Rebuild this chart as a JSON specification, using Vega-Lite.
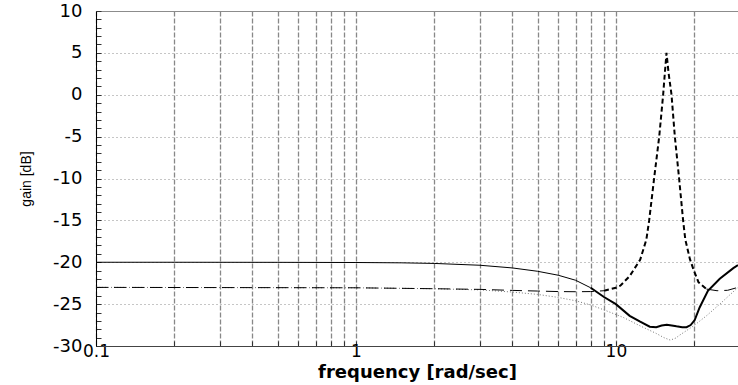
{
  "$schema": "https://vega.github.io/schema/vega-lite/v6.json",
  "width": 642,
  "height": 335,
  "autosize": {"type": "none"},
  "padding": {"left": 96, "top": 11, "right": 0, "bottom": 39},
  "background": "white",
  "config": {"view": {"stroke": null}},
  "data": {
    "values": [
      {"s": "A", "f": 0.1, "v": -20.0},
      {"s": "A", "f": 0.2, "v": -20.0},
      {"s": "A", "f": 0.5, "v": -20.01},
      {"s": "A", "f": 1, "v": -20.03},
      {"s": "A", "f": 1.5, "v": -20.07},
      {"s": "A", "f": 2, "v": -20.14},
      {"s": "A", "f": 3, "v": -20.36},
      {"s": "A", "f": 4, "v": -20.68},
      {"s": "A", "f": 5, "v": -21.08},
      {"s": "A", "f": 6, "v": -21.55},
      {"s": "A", "f": 7, "v": -22.15},
      {"s": "A", "f": 8, "v": -23.05},
      {"s": "A2", "f": 8, "v": -23.05},
      {"s": "A2", "f": 9, "v": -24.15},
      {"s": "A2", "f": 10, "v": -25.0},
      {"s": "A2", "f": 11.3, "v": -26.4},
      {"s": "A2", "f": 12.4, "v": -27.1},
      {"s": "A2", "f": 13.5, "v": -27.7},
      {"s": "A2", "f": 14.3, "v": -27.75},
      {"s": "A2", "f": 15.0, "v": -27.55},
      {"s": "A2", "f": 15.7, "v": -27.45},
      {"s": "A2", "f": 16.4, "v": -27.55},
      {"s": "A2", "f": 17.1, "v": -27.65},
      {"s": "A2", "f": 18.0, "v": -27.75},
      {"s": "A2", "f": 18.7, "v": -27.75},
      {"s": "A2", "f": 19.4, "v": -27.5},
      {"s": "A2", "f": 20.1, "v": -26.9},
      {"s": "A2", "f": 21.0, "v": -25.4},
      {"s": "A2", "f": 22.6, "v": -23.4},
      {"s": "A2", "f": 25.1, "v": -21.97},
      {"s": "A2", "f": 28.3, "v": -20.7},
      {"s": "A2", "f": 29.5, "v": -20.35},
      {"s": "B1", "f": 0.1, "v": -23.0},
      {"s": "B1", "f": 1, "v": -23.05},
      {"s": "B1", "f": 2, "v": -23.16},
      {"s": "B1", "f": 3, "v": -23.24},
      {"s": "B1", "f": 4, "v": -23.36},
      {"s": "B1", "f": 5, "v": -23.44},
      {"s": "B1", "f": 6, "v": -23.5},
      {"s": "B1", "f": 7, "v": -23.52},
      {"s": "B1", "f": 8, "v": -23.5},
      {"s": "B1", "f": 9, "v": -23.4},
      {"s": "B2", "f": 9, "v": -23.4},
      {"s": "B2", "f": 10, "v": -23.05},
      {"s": "B2", "f": 10.4, "v": -22.8},
      {"s": "B2", "f": 11.3, "v": -21.65},
      {"s": "B2", "f": 12.4, "v": -19.7},
      {"s": "B2", "f": 13.1, "v": -17.3},
      {"s": "B2", "f": 13.43, "v": -15.0},
      {"s": "B2", "f": 14.03, "v": -10.0},
      {"s": "B2", "f": 14.68, "v": -5.0},
      {"s": "B2", "f": 15.2, "v": 0.0},
      {"s": "B2", "f": 15.45, "v": 2.8},
      {"s": "B2", "f": 15.66, "v": 5.0},
      {"s": "B2", "f": 15.95, "v": 2.6},
      {"s": "B2", "f": 16.37, "v": 0.0},
      {"s": "B2", "f": 16.86, "v": -5.0},
      {"s": "B2", "f": 17.51, "v": -10.0},
      {"s": "B2", "f": 18.14, "v": -15.0},
      {"s": "B2", "f": 18.5, "v": -17.3},
      {"s": "B2", "f": 19.26, "v": -19.6},
      {"s": "B2", "f": 19.9, "v": -20.9},
      {"s": "B2", "f": 20.8, "v": -22.4},
      {"s": "B2", "f": 22.3, "v": -23.2},
      {"s": "B3", "f": 22.3, "v": -23.2},
      {"s": "B3", "f": 24.5, "v": -23.4},
      {"s": "B3", "f": 26.9, "v": -23.35},
      {"s": "B3", "f": 29.5, "v": -23.0},
      {"s": "C", "f": 0.1, "v": -23.0},
      {"s": "C", "f": 1, "v": -23.05},
      {"s": "C", "f": 2, "v": -23.16},
      {"s": "C", "f": 3, "v": -23.3},
      {"s": "C", "f": 4, "v": -23.56},
      {"s": "C", "f": 5, "v": -23.84},
      {"s": "C", "f": 6, "v": -24.2},
      {"s": "C", "f": 7, "v": -24.6},
      {"s": "C", "f": 8, "v": -25.1},
      {"s": "C", "f": 9.2, "v": -25.8},
      {"s": "C", "f": 10.7, "v": -26.6},
      {"s": "C", "f": 12.4, "v": -27.6},
      {"s": "C", "f": 14.3, "v": -28.5},
      {"s": "C", "f": 15.3, "v": -29.0},
      {"s": "C", "f": 16.2, "v": -29.3},
      {"s": "C", "f": 17.0, "v": -29.05},
      {"s": "C", "f": 17.6, "v": -28.7},
      {"s": "C", "f": 19.9, "v": -27.6},
      {"s": "C", "f": 22.3, "v": -26.4},
      {"s": "C", "f": 25.1, "v": -25.0},
      {"s": "C", "f": 29.5, "v": -23.0}
    ]
  },
  "encoding": {
    "x": {
      "field": "f",
      "type": "quantitative",
      "scale": {"type": "log", "domain": [0.1, 29.5], "nice": false},
      "axis": {
        "values": [0.1, 0.2, 0.3, 0.4, 0.5, 0.6, 0.7, 0.8, 0.9, 1, 2, 3, 4, 5, 6, 7, 8, 9, 10, 20],
        "labelExpr": "datum.value == 0.1 ? '0.1' : (datum.value == 1 ? '1' : (datum.value == 10 ? '10' : ''))",
        "grid": true,
        "gridColor": "#888888",
        "gridDash": [5, 2],
        "gridWidth": 1.3,
        "domainColor": "#444444",
        "domainWidth": 1,
        "tickColor": "#333333",
        "tickSize": {"expr": "-5"},
        "labelFont": "DejaVu Sans",
        "labelFontSize": 17,
        "labelColor": "black",
        "labelPadding": 2,
        "labelOverlap": false,
        "labelFlush": false,
        "title": "frequency [rad/sec]",
        "titleFont": "DejaVu Sans",
        "titleFontSize": 18,
        "titleFontWeight": "bold",
        "titleColor": "black",
        "titleY": 31,
        "titleBaseline": "alphabetic"
      }
    },
    "y": {
      "field": "v",
      "type": "quantitative",
      "scale": {"domain": [-30, 10], "nice": false, "zero": false},
      "axis": {
        "values": [-30, -29, -28, -27, -26, -25, -24, -23, -22, -21, -20, -19, -18, -17, -16, -15, -14, -13, -12, -11, -10, -9, -8, -7, -6, -5, -4, -3, -2, -1, 0, 1, 2, 3, 4, 5, 6, 7, 8, 9, 10],
        "labelExpr": "datum.value % 5 === 0 ? '' + datum.value : ''",
        "grid": true,
        "gridColor": "#8c8c8c",
        "gridOpacity": {"condition": {"test": "datum.value % 5 === 0", "value": 1}, "value": 0},
        "gridDash": {"condition": {"test": "datum.value === 10", "value": []}, "value": [1, 3]},
        "gridWidth": 1,
        "domainColor": "black",
        "domainWidth": 1,
        "tickColor": "#333333",
        "tickSize": {"expr": "-5"},
        "labelFont": "DejaVu Sans",
        "labelFontSize": 18,
        "labelColor": "black",
        "labelPadding": 19,
        "labelOverlap": false,
        "labelFlush": false,
        "labelBaseline": "middle",
        "title": "gain [dB]",
        "titleFont": "Liberation Sans",
        "titleFontSize": 14,
        "titleFontWeight": "normal",
        "titleColor": "black",
        "titleAngle": 270,
        "titleX": -70,
        "titleY": 167.5,
        "titleAlign": "center",
        "titleBaseline": "middle"
      }
    }
  },
  "layer": [
    {"transform": [{"filter": "datum.s === 'C'"}], "mark": {"type": "line", "color": "#777777", "strokeWidth": 1, "strokeDash": [1, 2], "clip": true}},
    {"transform": [{"filter": "datum.s === 'B1' || datum.s === 'B3'"}], "mark": {"type": "line", "color": "black", "strokeWidth": 1, "strokeDash": [12, 6], "clip": true}, "encoding": {"detail": {"field": "s"}}},
    {"transform": [{"filter": "datum.s === 'B2'"}], "mark": {"type": "line", "color": "black", "strokeWidth": 2, "strokeDash": [5, 3], "clip": true}},
    {"transform": [{"filter": "datum.s === 'A'"}], "mark": {"type": "line", "color": "black", "strokeWidth": 1, "clip": true}},
    {"transform": [{"filter": "datum.s === 'A2'"}], "mark": {"type": "line", "color": "black", "strokeWidth": 2, "clip": true}}
  ]
}
